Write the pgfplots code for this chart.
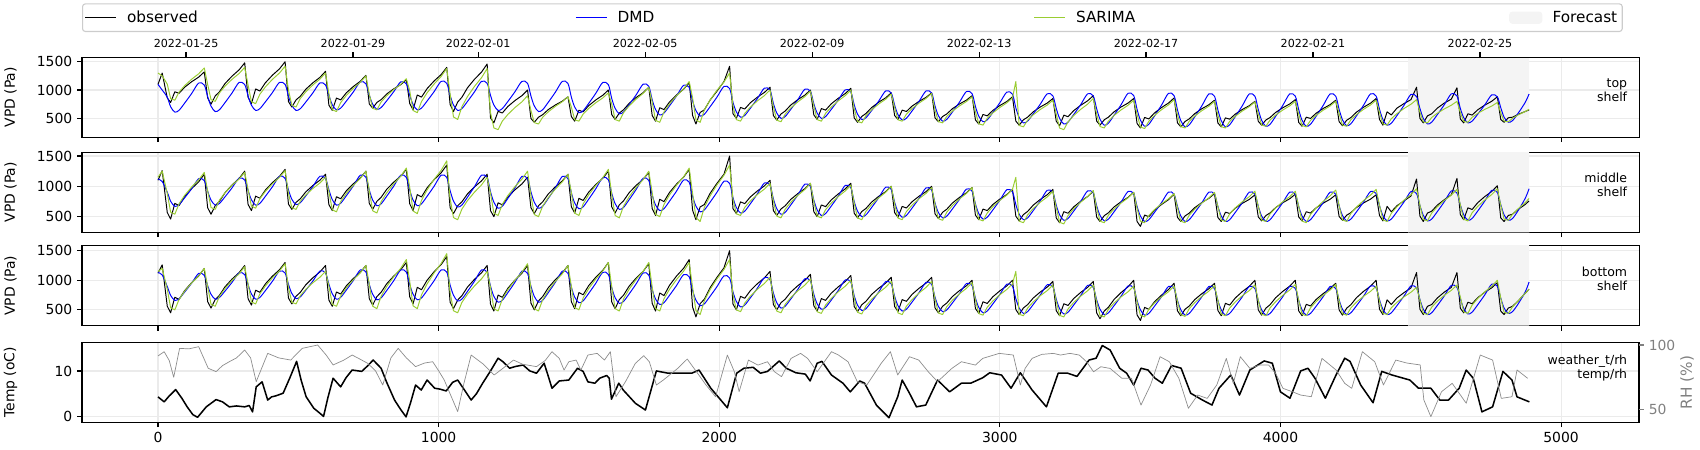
\documentclass[border=0pt]{standalone}
\usepackage{fontspec}
\setmainfont{DejaVu Sans}
\usepackage{pgfplots}
\usepackage{pgfplotstable}
\pgfplotsset{compat=1.18}
\definecolor{sarima}{HTML}{9ACD32}
\definecolor{dmd}{HTML}{0000FF}
\definecolor{fc}{HTML}{F4F4F4}
\definecolor{gridc}{HTML}{EBEBEB}
\definecolor{rhc}{HTML}{8C8C8C}
\definecolor{rhl}{HTML}{808080}

\pgfplotstableread{
x tO tD tS mO mD mS bO bD bS
0 1100 1100 1300 1100 1120 1150 1120 1130 1150
15 1300 1000 1250 1260 1080 1250 1260 1090 1200
33 861 875 1105 571 905 885 563 895 850
45 780 705 849 460 755 575 450 745 535
60 969 610 820 719 670 540 713 660 500
75 942 642 963 682 698 713 675 688 675
95 1050 769 1077 830 811 851 825 801 815
120 1147 939 1191 963 961 989 960 951 955
145 1228 1124 1287 1074 1126 1106 1073 1116 1074
165 1320 1087 1390 1200 1093 1230 1200 1083 1200
177 860 885 1100 647 920 925 638 910 895
189 750 715 830 540 773 651 530 763 594
204 896 620 800 682 690 620 674 680 560
219 969 652 950 753 718 773 746 708 728
239 1115 779 1070 895 828 895 890 818 862
264 1246 949 1190 1023 975 1017 1020 965 996
289 1356 1134 1292 1129 1136 1120 1128 1126 1109
309 1480 1097 1400 1250 1104 1230 1250 1094 1230
321 871 895 1090 702 935 950 688 925 940
333 760 732 793 600 778 671 580 768 634
348 1019 640 760 838 690 640 832 680 600
363 982 671 925 804 719 795 796 709 770
383 1130 793 1057 940 837 919 940 827 906
408 1263 956 1189 1062 994 1043 1070 984 1042
433 1374 1135 1301 1164 1165 1148 1178 1155 1158
453 1500 1099 1420 1280 1131 1260 1300 1121 1280
465 795 890 1000 707 940 885 698 930 875
477 700 730 730 620 786 647 600 776 628
492 826 640 700 736 700 620 730 690 600
507 889 670 850 794 729 753 795 719 738
527 1015 790 970 910 844 859 925 834 848
552 1128 950 1090 1014 998 965 1042 988 958
577 1223 1125 1192 1101 1166 1055 1140 1156 1051
597 1330 1090 1300 1200 1132 1150 1250 1122 1150
609 733 905 935 698 945 915 664 935 905
621 640 742 652 600 782 614 560 772 595
636 857 650 620 828 690 580 802 680 560
651 826 681 778 795 721 748 767 711 733
671 950 803 904 925 843 882 905 833 871
696 1062 966 1030 1042 1006 1016 1029 996 1009
721 1155 1145 1137 1140 1185 1129 1133 1175 1126
741 1260 1109 1250 1250 1149 1250 1250 1139 1250
753 755 910 925 719 940 930 688 930 935
765 680 750 678 620 774 597 580 764 562
780 780 660 650 752 680 560 724 670 520
795 830 690 788 818 711 745 796 701 728
815 930 810 898 950 836 893 940 826 894
840 1020 970 1008 1069 1002 1041 1070 992 1060
865 1095 1145 1101 1168 1184 1167 1178 1174 1201
885 1180 1110 1200 1280 1148 1300 1300 1138 1350
897 763 910 990 713 940 985 720 930 985
909 650 744 639 600 774 594 600 764 567
924 913 650 600 863 680 550 880 670 520
939 875 681 795 825 711 768 840 701 753
959 1025 806 951 975 836 942 1000 826 939
984 1160 972 1107 1110 1002 1116 1144 992 1125
1009 1273 1154 1240 1223 1184 1263 1264 1174 1283
1029 1400 1118 1380 1350 1148 1420 1400 1138 1450
1041 746 905 930 648 930 800 630 920 800
1053 620 735 525 550 757 485 520 747 485
1068 788 640 480 680 660 450 666 650 450
1083 872 672 705 745 692 625 739 682 625
1103 1040 799 885 875 822 765 885 812 765
1128 1191 969 1065 992 995 905 1016 985 905
1153 1317 1154 1218 1090 1184 1024 1126 1174 1024
1173 1460 1117 1380 1200 1146 1150 1250 1136 1150
1185 507 905 600 598 910 885 596 900 880
1197 420 735 330 500 737 557 480 727 520
1212 623 640 300 728 640 520 750 630 480
1227 594 672 450 695 672 703 711 662 680
1247 710 799 570 825 802 849 865 792 840
1272 814 969 690 942 975 995 1004 965 1000
1297 901 1154 792 1040 1164 1119 1119 1154 1136
1317 1000 1117 900 1150 1126 1250 1250 1116 1280
1329 498 895 640 648 910 850 613 900 865
1341 430 719 424 550 737 535 500 727 519
1356 520 620 400 680 640 500 650 630 480
1371 565 653 520 745 672 675 725 662 673
1391 655 785 616 875 802 815 875 792 827
1416 736 961 712 992 975 955 1010 965 981
1441 804 1154 794 1090 1164 1074 1123 1154 1111
1461 880 1115 880 1200 1126 1200 1250 1116 1250
1473 533 875 700 664 895 900 637 885 900
1485 450 699 475 560 725 558 520 715 540
1500 643 600 450 802 630 520 793 620 500
1515 615 633 575 767 662 710 754 652 700
1535 725 765 675 905 789 862 910 779 860
1560 824 941 775 1029 959 1014 1050 949 1020
1585 907 1134 860 1133 1144 1143 1167 1134 1156
1605 1000 1095 950 1250 1107 1280 1300 1097 1300
1617 566 850 750 661 885 865 634 875 890
1629 480 677 480 560 715 519 520 705 521
1644 594 580 450 694 620 480 672 610 480
1659 651 612 600 761 652 673 748 642 685
1679 765 742 720 895 779 827 900 769 849
1704 868 915 840 1016 949 981 1037 939 1013
1729 953 1104 942 1116 1134 1111 1151 1124 1152
1749 1050 1066 1050 1230 1097 1250 1280 1087 1300
1761 552 830 790 634 860 900 611 850 890
1773 450 657 466 520 694 540 480 684 521
1788 688 560 430 786 600 500 785 590 480
1803 654 592 610 748 631 700 741 621 685
1823 790 722 754 900 756 860 915 746 849
1848 912 895 898 1037 922 1020 1072 912 1013
1873 1014 1084 1020 1151 1104 1156 1202 1094 1152
1893 1130 1046 1150 1280 1068 1300 1350 1058 1300
1905 553 810 865 608 840 885 548 830 885
1917 400 637 474 450 674 487 380 664 487
1932 604 540 430 660 580 420 604 570 420
1947 650 572 648 700 611 653 680 601 653
1967 820 702 822 880 736 839 870 726 839
1992 980 875 996 1050 902 1025 1050 892 1025
2017 1150 1064 1143 1200 1084 1183 1210 1074 1183
2037 1420 1026 1300 1500 1048 1350 1500 1038 1350
2049 583 785 725 633 815 785 598 805 760
2061 500 615 478 550 652 547 500 642 499
2076 693 520 450 743 560 520 728 550 470
2091 665 552 588 715 591 653 695 581 615
2111 775 679 698 825 713 759 825 703 731
2136 874 849 808 924 876 865 942 866 847
2161 957 1034 901 1007 1055 955 1040 1045 946
2181 1050 997 1000 1100 1019 1050 1150 1009 1050
2193 550 765 710 600 795 765 590 785 735
2205 470 595 467 520 632 509 500 622 479
2220 576 500 440 626 540 480 620 530 450
2235 629 532 575 679 571 623 680 561 593
2255 735 659 683 785 693 737 800 683 707
2280 830 829 791 880 856 851 908 846 821
2305 910 1014 883 960 1035 947 998 1025 917
2325 1000 977 980 1050 999 1050 1100 989 1020
2337 563 760 725 583 775 750 570 765 720
2349 480 594 478 500 612 507 480 602 468
2364 673 500 450 693 520 480 690 510 440
2379 645 531 588 665 551 615 660 541 580
2399 755 656 698 775 673 723 780 663 692
2424 854 822 808 874 836 831 888 826 804
2449 937 1004 901 957 1015 923 978 1005 899
2469 1030 968 1000 1050 979 1020 1080 969 1000
2481 508 740 675 558 750 725 557 740 705
2493 430 574 446 480 590 478 470 580 458
2508 534 480 420 584 500 450 586 490 430
2523 586 511 548 636 530 588 644 520 568
2543 690 636 650 740 650 698 760 640 678
2568 784 802 752 834 810 808 864 800 788
2593 862 984 838 912 985 901 951 975 881
2613 950 948 930 1000 950 1000 1050 940 980
2625 551 735 695 567 740 715 557 730 700
2637 480 565 475 490 580 477 470 570 448
2652 645 470 450 669 490 450 673 480 420
2667 621 502 573 643 520 583 644 510 560
2687 715 629 671 745 640 689 760 630 672
2712 800 799 769 837 800 795 864 790 784
2737 870 984 852 913 975 885 951 965 879
2757 950 947 940 1000 940 980 1050 930 980
2769 509 720 650 547 725 710 533 715 690
2781 440 547 443 470 568 467 450 558 447
2796 532 450 420 572 480 440 560 470 420
2811 578 482 535 623 509 575 615 499 555
2831 670 612 627 725 627 683 725 617 663
2856 753 785 719 817 784 791 824 774 771
2881 822 974 797 893 955 883 907 945 863
2901 900 936 880 980 921 980 1000 911 960
2913 472 710 620 525 710 690 524 700 675
2925 400 537 404 450 550 456 440 540 437
2940 568 440 380 625 460 430 636 450 410
2955 544 472 500 600 490 560 608 480 543
2975 640 602 596 700 610 664 720 600 649
3000 726 775 692 790 770 768 821 760 755
3025 798 964 774 865 945 856 905 935 845
3045 880 926 860 950 910 950 1000 900 940
3057 451 685 1150 508 700 1150 504 690 1150
3069 380 515 374 430 540 426 420 530 426
3084 474 420 350 534 450 400 532 440 400
3099 521 452 468 586 480 530 588 470 530
3119 615 579 562 690 600 634 700 590 634
3144 700 749 656 784 760 738 801 750 738
3169 770 934 735 862 935 826 885 925 826
3189 850 897 820 950 900 920 980 890 920
3201 450 675 575 478 690 655 487 680 650
3213 370 499 328 400 530 408 400 520 407
3228 556 400 300 582 440 380 603 430 380
3243 529 433 438 556 470 518 574 460 515
3263 635 565 548 660 590 628 690 580 623
3288 730 741 658 754 750 738 794 740 731
3313 810 934 751 832 925 831 881 915 823
3333 900 895 850 920 890 930 980 880 920
3345 451 670 575 492 680 650 448 670 640
3357 380 484 355 420 520 425 350 510 406
3372 474 380 330 516 430 400 480 420 380
3387 521 415 453 564 460 525 545 450 510
3407 615 554 551 660 580 625 675 570 614
3432 700 740 649 746 740 725 792 730 718
3457 770 943 732 818 915 810 890 905 806
3477 850 902 820 900 880 900 1000 870 900
3489 410 660 575 420 670 640 415 660 640
3501 330 468 346 340 510 424 320 500 406
3516 516 360 320 526 420 400 541 410 380
3531 489 396 448 499 450 520 509 440 510
3551 595 540 550 605 570 616 635 560 614
3576 690 732 652 700 730 712 748 720 718
3601 770 942 738 780 905 794 843 895 806
3621 860 900 830 870 870 880 950 860 900
3633 421 650 565 489 670 650 483 660 650
3645 350 458 354 420 510 425 400 500 416
3660 444 350 330 512 420 400 510 410 390
3675 491 386 448 558 450 525 565 440 520
3695 585 530 542 650 570 625 675 560 624
3720 670 722 636 733 730 725 774 720 728
3745 740 932 715 802 905 810 857 895 816
3765 820 890 800 880 870 900 950 860 910
3777 418 650 560 486 670 670 490 660 660
3789 350 458 353 420 510 445 400 500 426
3804 508 350 330 574 420 420 610 410 400
3819 485 386 445 552 450 545 580 440 530
3839 575 530 537 640 570 645 700 560 634
3864 656 722 629 719 730 745 808 720 738
3889 724 932 707 785 905 830 898 895 826
3909 800 890 790 860 870 920 1000 860 920
3921 448 655 580 496 670 670 499 660 665
3933 380 466 382 430 510 445 410 500 427
3948 470 360 360 518 420 420 528 410 400
3963 515 395 470 562 450 545 587 440 533
3983 605 537 558 650 570 645 705 560 639
4008 686 726 646 729 730 745 811 720 745
4033 754 932 721 795 905 830 900 895 835
4053 830 891 800 870 870 920 1000 860 930
4065 429 655 575 495 670 670 483 660 665
4077 360 466 373 430 510 427 400 500 427
4092 521 360 350 581 420 400 593 410 400
4107 498 395 463 559 450 535 565 440 533
4127 590 537 553 645 570 643 675 560 639
4152 673 726 643 722 730 751 774 720 745
4177 742 932 719 787 905 843 857 895 835
4197 820 891 800 860 870 940 950 860 930
4209 442 660 590 503 680 685 499 670 655
4221 370 474 383 440 520 447 410 510 435
4236 466 370 360 524 430 420 528 420 410
4251 514 405 475 566 460 553 587 450 533
4271 610 544 567 650 580 659 705 570 631
4296 696 730 659 726 740 765 811 730 729
4321 768 933 737 789 915 855 900 905 812
4341 850 892 820 860 880 950 1000 870 900
4353 480 660 605 520 680 690 510 670 650
4365 380 481 403 430 520 447 420 510 443
4380 615 380 380 670 430 420 670 420 420
4395 560 414 493 580 460 555 590 450 535
4415 680 548 583 680 580 663 700 570 627
4440 760 727 673 760 740 771 790 730 719
4465 830 923 749 840 915 863 870 905 797
4485 1050 884 830 1120 880 960 1130 870 880
4497 500 675 610 510 685 690 510 675 670
4509 420 499 439 420 522 456 420 512 445
4524 544 400 420 560 430 430 560 420 420
4539 580 433 515 590 461 560 590 451 545
4559 680 565 591 690 583 664 700 573 645
4584 770 741 667 780 746 768 800 736 745
4609 840 934 732 860 925 856 880 915 830
4629 1040 895 800 1130 889 950 1130 879 920
4641 489 675 605 534 695 695 527 690 720
4653 420 512 448 450 532 457 450 524 468
4668 581 420 430 646 440 430 629 430 440
4683 558 451 518 618 471 563 603 461 580
4703 650 573 588 730 593 669 705 586 692
4728 733 736 658 831 756 775 797 752 804
4753 802 915 717 915 935 865 873 934 899
4773 880 879 780 1010 899 960 960 898 1000
4785 480 690 600 480 700 690 480 700 700
4797 430 520 450 420 530 460 420 530 460
4812 510 430 440 520 440 440 530 440 440
4827 520 460 500 540 470 540 560 470 550
4847 570 590 560 620 600 630 650 600 650
4872 620 780 620 700 800 730 780 800 780
4886 650 930 660 760 960 800 850 970 850
}\vpd

\pgfplotstableread{
x t
0 4.3
22 3.2
40 4.5
63 5.9
85 4.0
104 2.1
124 0.4
141 -0.2
172 2.1
207 3.7
230 3.2
254 2.1
280 2.3
309 2.1
325 2.4
337 1.0
350 6.5
371 7.6
391 3.6
405 4.3
419 4.5
446 5.1
470 8.5
494 12.1
510 8.0
528 4.3
555 1.8
575 0.8
590 0
605 4.0
624 8.4
651 6.5
670 8.5
692 10.2
726 9.9
745 11.0
767 12.4
795 10.6
815 7.5
843 3.6
865 1.5
884 -0.1
900 3.0
918 6.9
938 5.8
959 8.0
986 6.2
1005 6.0
1027 5.6
1050 7.5
1068 8.0
1090 6.0
1116 3.6
1135 5.0
1157 7.3
1185 10.0
1212 12.8
1230 12.0
1253 10.6
1275 11.0
1301 11.3
1325 10.0
1349 9.5
1376 11.7
1390 9.0
1404 6.2
1430 7.8
1464 8.0
1495 10.6
1515 9.9
1532 7.6
1557 7.3
1574 8.4
1599 9.0
1608 8.4
1616 3.8
1642 7.3
1658 5.8
1701 2.9
1737 1.4
1776 10.0
1818 9.5
1869 9.5
1902 9.5
1928 10.2
1970 6.2
2029 1.9
2062 9.5
2088 10.6
2121 10.8
2147 9.5
2172 9.9
2214 12.2
2239 10.6
2273 9.6
2307 9.3
2324 7.8
2349 11.7
2366 12.1
2400 9.1
2441 7.3
2467 5.4
2501 7.8
2518 7.3
2560 2.5
2605 -0.3
2636 4.3
2652 8.0
2678 5.1
2703 2.1
2736 2.5
2778 8.0
2821 5.4
2863 7.3
2896 7.3
2939 8.5
2964 9.6
3006 9.1
3040 6.2
3073 9.6
3115 5.8
3166 2.1
3208 9.5
3242 9.5
3275 8.8
3318 12.4
3343 12.8
3365 15.6
3393 14.6
3427 10.6
3452 9.5
3477 6.9
3503 10.6
3528 10.2
3553 8.4
3579 7.3
3612 11.2
3646 10.6
3680 5.1
3722 3.6
3756 2.5
3781 6.2
3823 9.1
3854 4.7
3891 10.2
3942 12.2
3971 11.7
4000 5.4
4034 4.0
4072 10.0
4098 10.6
4123 8.4
4160 4.0
4198 9.1
4229 12.8
4248 12.1
4286 6.9
4330 3.0
4361 9.9
4398 9.1
4461 8.0
4492 6.2
4536 6.2
4568 3.6
4599 3.6
4637 6.2
4662 10.2
4687 8.4
4718 1.0
4756 2.1
4793 9.9
4825 8.0
4843 4.3
4887 3.2
}\temp

\pgfplotstableread{
x rh
0 91.5
22 94.8
40 88
56 74.9
77 97.4
110 97
145 98.7
179 81.9
207 79.3
230 84
254 87.0
280 90
309 96.1
330 90
350 71.5
391 93.5
430 90
473 88.3
514 97.4
569 100.0
600 92
624 84.5
660 88
692 92.2
720 89
747 85.8
775 80
801 68.9
830 90
856 97.4
885 90
918 83.2
950 86
979 87.0
1000 80
1020 72.8
1045 60
1068 48.2
1090 70
1116 92.2
1160 85
1198 76.7
1230 82
1267 88.3
1300 85
1349 83.2
1380 88
1404 94.8
1430 89.6
1447 80.5
1464 87
1490 88.3
1507 80.5
1532 92.2
1565 93.5
1591 88.3
1612 94.8
1632 59.8
1666 71.5
1701 85.7
1731 91.7
1751 87
1776 68.9
1801 72.8
1852 81.8
1886 89.1
1919 79.2
1953 68.9
1987 59.8
2029 92.2
2054 79.2
2071 63.7
2104 88.3
2138 84.4
2172 87.0
2197 79.2
2222 75.4
2256 89.6
2290 93.5
2315 89.6
2349 79.2
2400 94.8
2425 92.2
2459 87.0
2492 71.5
2526 68.9
2577 85.7
2610 94.8
2636 76.7
2678 90.9
2711 88.3
2745 79.2
2778 71.5
2829 81.8
2863 87.0
2913 84.4
2939 89.6
2998 93.5
3048 92.2
3073 68.9
3090 81.8
3115 89.6
3149 92.7
3191 93.5
3216 92.2
3250 93.5
3283 92.2
3309 87.0
3334 79.2
3360 83.1
3393 81.8
3435 74.1
3469 74.1
3503 53.3
3537 68.9
3571 90.9
3604 87.0
3638 74.1
3672 50.8
3705 61.1
3739 58.5
3773 68.9
3807 89.6
3832 70.2
3857 90.9
3891 81.8
3925 84.4
3958 84.4
3983 77.9
4009 66.3
4042 63.7
4072 61.1
4110 59.8
4148 89.6
4198 80.6
4229 70.2
4254 66.3
4292 94.8
4336 87.0
4367 68.9
4411 88.3
4450 86
4498 84.5
4511 57.3
4536 44.3
4574 63.7
4612 70.2
4662 54.7
4712 92.2
4756 88.3
4787 58.5
4825 59.8
4843 80.6
4881 74.1
}\rh

\tikzset{shelf/.style={anchor=east, align=right, font=\fontsize{9}{10.1}\selectfont}}
\pgfplotsset{
  legend image code/.code={\draw[#1] (0pt,0pt) -- (22.3pt,0pt);},
  panel/.style={scale only axis, width=1121.04pt, height=57.6pt,
    xmin=-270.8, xmax=5277.9, xtick={0,1000,2000,3000,4000,5000},
    tick align=outside, major tick length=3.5pt, tick pos=left,
    grid=major, grid style={color=gridc, line width=0.8pt},
    axis line style={line width=0.8pt},
    every tick/.style={black, line width=0.8pt},
    tick label style={font=\fontsize{10}{12}\selectfont},
    /pgf/number format/assume math mode=true,
    /pgf/number format/1000 sep={},
    scaled ticks=false, anchor=north west,
    every axis y label/.style={at={(rel axis cs:0,0.5)}, xshift=-51.5pt, rotate=90, anchor=center, font=\fontsize{10}{12}\selectfont}},
  vpd/.style={panel, ytick={500,1000,1500}, xticklabels={}, ylabel={VPD (Pa)}},
  obs/.style={black, line width=0.7pt, line join=round},
  dmdl/.style={dmd, line width=0.7pt, line join=round},
  sarl/.style={sarima, line width=0.7pt, line join=round},
}

\begin{document}
\begin{tikzpicture}
% top shelf
\begin{axis}[vpd, at={(59.04pt,-41.26pt)}, ymin=165, ymax=1578,
  legend columns=4, legend cell align=left,
  legend style={at={(0,1)}, anchor=south west, yshift=18.2pt,
    inner xsep=1.6pt, inner ysep=3pt, rounded corners=2pt, draw=black!20, line width=0.8pt,
    nodes={inner sep=2pt, text depth=0.15em},
    font=\fontsize{11}{13}\selectfont,
    /tikz/every odd column/.append style={column sep=5.4pt}}]
\addplot[fill=fc, draw=none, forget plot] coordinates {(4455,0) (4455,2000) (4886,2000) (4886,0)} \closedcycle;
\addplot[obs, forget plot] table[x=x,y=tO]{\vpd};
\addplot[dmdl, smooth, forget plot] table[x=x,y=tD]{\vpd};
\addplot[sarl, forget plot] table[x=x,y=tS]{\vpd};
\node[shelf] at (rel axis cs:0.9955,0.591) {top\\shelf};
\addlegendimage{black, line width=0.75pt}
\addlegendentry{\makebox[320.7pt][l]{observed}}
\addlegendimage{dmd, line width=0.75pt}
\addlegendentry{\makebox[297.66pt][l]{DMD}}
\addlegendimage{sarima, line width=0.75pt}
\addlegendentry{\makebox[309.9pt][l]{SARIMA}}
\addlegendimage{legend image code/.code={\fill[fc] (0pt,-4pt) rectangle (23pt,4pt);}}
\addlegendentry{Forecast}
\end{axis}
% date axis on top
\begin{axis}[scale only axis, width=1121.04pt, height=57.6pt, at={(59.04pt,-41.26pt)}, anchor=north west,
  xmin=-270.8, xmax=5277.9, ymin=0, ymax=1,
  axis x line*=top, axis y line=none,
  xtick={100,695,1141,1736,2331,2926,3521,4116,4711},
  xticklabels={2022-01-25,2022-01-29,2022-02-01,2022-02-05,2022-02-09,2022-02-13,2022-02-17,2022-02-21,2022-02-25},
  tick align=outside, major tick length=3.5pt,
  every tick/.style={black, line width=0.8pt}, axis line style={line width=0.8pt},
  xticklabel style={font=\fontsize{8}{9.6}\selectfont}]
\addplot[draw=none, forget plot] coordinates {(0,0.5)};
\end{axis}
% middle shelf
\begin{axis}[vpd, at={(59.04pt,-109.66pt)}, ymin=242, ymax=1561]
\addplot[fill=fc, draw=none, forget plot] coordinates {(4455,0) (4455,2000) (4886,2000) (4886,0)} \closedcycle;
\addplot[obs] table[x=x,y=mO]{\vpd};
\addplot[dmdl, smooth] table[x=x,y=mD]{\vpd};
\addplot[sarl] table[x=x,y=mS]{\vpd};
\node[shelf] at (rel axis cs:0.9955,0.591) {middle\\shelf};
\end{axis}
% bottom shelf
\begin{axis}[vpd, at={(59.04pt,-176.9pt)}, ymin=232, ymax=1584]
\addplot[fill=fc, draw=none, forget plot] coordinates {(4455,0) (4455,2000) (4886,2000) (4886,0)} \closedcycle;
\addplot[obs] table[x=x,y=bO]{\vpd};
\addplot[dmdl, smooth] table[x=x,y=bD]{\vpd};
\addplot[sarl] table[x=x,y=bS]{\vpd};
\node[shelf] at (rel axis cs:0.9955,0.591) {bottom\\shelf};
\end{axis}
% weather
\begin{axis}[panel, at={(59.04pt,-246.46pt)}, ymin=-1.3, ymax=16.3, ytick={0,10}, ylabel={Temp (oC)}]
\addplot[black, line width=1.1pt, line join=round] table[x=x,y=t]{\temp};
\node[shelf] at (rel axis cs:0.9955,0.679) {weather\_t/rh\\temp/rh};
\end{axis}
\begin{axis}[scale only axis, width=1121.04pt, height=57.6pt, at={(59.04pt,-246.46pt)}, anchor=north west,
  xmin=-270.8, xmax=5277.9, ymin=39.9, ymax=102.1,
  axis y line*=right, axis x line=none, ytick={50,100},
  tick align=outside, major tick length=3.5pt,
  every tick/.style={rhl, line width=0.8pt}, y axis line style={draw=none},
  yticklabel style={rhl, font=\fontsize{10}{12}\selectfont},
  /pgf/number format/assume math mode=true,
  ylabel={RH (\%)},
  every axis y label/.style={at={(rel axis cs:1,0.5)}, xshift=34.56pt, rotate=90, anchor=center, font=\fontsize{11}{13}\selectfont, text=rhl}]
\addplot[rhc, line width=0.5pt, line join=round] table[x=x,y=rh]{\rh};
\end{axis}
\pgfresetboundingbox
\path[use as bounding box] (0pt,0pt) rectangle (1224pt,-324pt);
\end{tikzpicture}
\end{document}
